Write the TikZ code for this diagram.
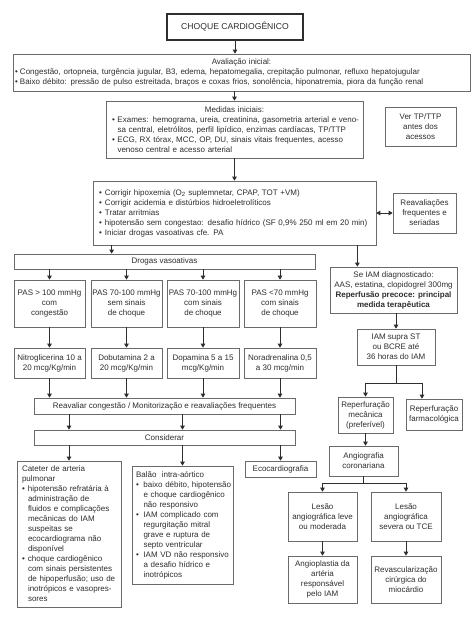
\documentclass[tikz,border=0pt]{standalone}
\usepackage{fontspec}
\setmainfont{Liberation Sans}
\usetikzlibrary{arrows.meta}
\definecolor{bordc}{HTML}{6A6A6A}
\definecolor{linec}{HTML}{2E2E2E}
\definecolor{txtc}{HTML}{2E2E2E}
\newcommand\fs{\fontsize{8}{10}\selectfont}
\newlength\bhang
\newcommand\bl[1]{\makebox[\bhang][l]{\textbullet}\mbox{#1}}
\newcommand\cl[1]{\hspace*{\bhang}\mbox{#1}}
\newcommand\bx[7][]{%
  \node[box,#1,minimum width={#5-#3},minimum height={#6-#4}] (#2) at ({(#3+#5)/2},{(#4+#6)/2}) {#7};}
\tikzset{
  box/.style={draw=bordc, line width=0.7pt, inner sep=0pt, align=center, font=\fs, text=txtc},
  arr/.style={draw=linec, line width=0.8pt, -{Triangle[length=4pt,width=4.5pt]}},
  arrtwo/.style={draw=linec, line width=0.8pt, {Triangle[length=4pt,width=4.5pt]}-{Triangle[length=4pt,width=4.5pt]}},
  plain/.style={draw=linec, line width=0.8pt},
}
\begin{document}
\begin{tikzpicture}[x=1pt,y=-1pt]
\useasboundingbox (0,0) rectangle (474,618);
\fill[white] (0,0) rectangle (474,618);

\bx[draw=linec,line width=1.6pt,font=\fontsize{8.6}{10}\selectfont]{title}{167}{14}{303}{40}{CHOQUE CARDIOGÊNICO}

\bx[align=left,inner xsep=2pt,text width=453pt]{aval}{13}{54}{470}{91}{\setlength\bhang{5pt}%
\makebox[\hsize]{Avaliação inicial:}\\
\bl{Congestão, ortopneia, turgência jugular, B3, edema, hepatomegalia, crepitação pulmonar, refluxo hepatojugular}\\
\bl{Baixo débito: pressão de pulso estreitada, braços e coxas frios, sonolência, hiponatremia, piora da função renal}}

\bx[align=left,inner xsep=6pt,text width=245pt]{medidas}{106}{101}{363}{158}{\setlength\bhang{5.5pt}%
\makebox[\hsize]{Medidas iniciais:}\\
\bl{Exames: hemograma, ureia, creatinina, gasometria arterial e veno-}\\
\cl{sa central, eletrólitos, perfil lipídico, enzimas cardíacas, TP/TTP}\\
\bl{ECG, RX tórax, MCC, OP, DU, sinais vitais frequentes, acesso}\\
\cl{venoso central e acesso arterial}}

\bx{ver}{385}{107}{456}{146}{Ver TP/TTP\\antes dos\\acessos}

\bx[align=left,inner xsep=6pt,text width=271pt]{corrigir}{93}{181}{376}{245}{\setlength\bhang{6pt}%
\bl{Corrigir hipoxemia (O\textsubscript{2} suplemnetar, CPAP, TOT +VM)}\\
\bl{Corrigir acidemia e distúrbios hidroeletrolíticos}\\
\bl{Tratar arritmias}\\
\bl{hipotensão sem congestao: desafio hídrico (SF 0,9\% 250 ml em 20 min)}\\
\bl{Iniciar drogas vasoativas cfe. PA}}

\bx{reaval}{393}{193}{456}{233}{Reavaliações\\frequentes e\\seriadas}

\bx{drogas}{14}{254}{315}{269}{Drogas vasoativas}

\bx{p1}{14}{280}{85}{327}{PAS > 100 mmHg\\com\\congestão}
\bx{p2}{91}{280}{162}{327}{PAS 70-100 mmHg\\sem sinais\\de choque}
\bx{p3}{167}{280}{239}{327}{PAS 70-100 mmHg\\com sinais\\de choque}
\bx{p4}{244}{280}{316}{327}{PAS <70 mmHg\\com sinais\\de choque}

\bx{d1}{14}{348}{85}{378}{Nitroglicerina 10 a\\20 mcg/Kg/min}
\bx{d2}{91}{348}{162}{378}{Dobutamina 2 a\\20 mcg/Kg/min}
\bx{d3}{167}{348}{239}{378}{Dopamina 5 a 15\\mcg/Kg/min}
\bx{d4}{244}{348}{316}{378}{Noradrenalina 0,5\\a 30 mcg/min}

\bx{reav}{34}{398}{295}{414}{Reavaliar congestão / Monitorização e reavaliações frequentes}
\bx{cons}{34}{430}{295}{445}{Considerar}

\bx[align=left,inner xsep=5pt,text width=94pt]{cateter}{17}{461}{121}{607}{\setlength\bhang{6pt}%
\mbox{Cateter de arteria}\\
\mbox{pulmonar}\\
\bl{hipotensão refratária à}\\
\cl{administração de}\\
\cl{fluidos e complicações}\\
\cl{mecânicas do IAM}\\
\cl{suspeitas se}\\
\cl{ecocardiograma não}\\
\cl{disponível}\\
\bl{choque cardiogênico}\\
\cl{com sinais persistentes}\\
\cl{de hipoperfusão; uso de}\\
\cl{inotrópicos e vasopres-}\\
\cl{sores}}

\bx[align=left,inner xsep=4pt,text width=93pt]{balao}{132}{466}{233}{584}{\setlength\bhang{7.5pt}%
\mbox{Balão\ \ intra-aórtico}\\
\bl{baixo débito, hipotensão}\\
\cl{e choque cardiogênico}\\
\cl{não responsivo}\\
\bl{IAM complicado com}\\
\cl{regurgitação mitral}\\
\cl{grave e ruptura de}\\
\cl{septo ventricular}\\
\bl{IAM VD não responsivo}\\
\cl{a desafio hídrico e}\\
\cl{inotrópicos}}

\bx{eco}{245}{461}{316}{477}{Ecocardiografia}

\bx{seiam}{330}{267}{457}{313}{Se IAM diagnosticado:\\AAS, estatina, clopidogrel 300mg\\\textbf{Reperfusão precoce: principal}\\\textbf{medida terapêutica}}
\bx{iamst}{357}{329}{435}{365}{IAM supra ST\\ou BCRE até\\36 horas do IAM}
\bx{mec}{338}{397}{393}{433}{Reperfuração\\mecânica\\(preferível)}
\bx{farm}{406}{399}{462}{430}{Reperfuração\\farmacológica}
\bx{angio}{329}{446}{398}{476}{Angiografia\\coronariana}
\bx{leve}{288}{492}{357}{541}{Lesão\\angiográfica leve\\ou moderada}
\bx{sev}{371}{492}{441}{541}{Lesão\\angiográfica\\severa ou TCE}
\bx{angp}{288}{556}{357}{603}{Angioplastia da\\artéria\\responsável\\pelo IAM}
\bx{revasc}{371}{556}{441}{603}{Revascularização\\cirúrgica do\\miocárdio}

% connectors
\draw[arr] (title.south) -- (title.south |- aval.north);
\draw[arr] (aval.south -| medidas.north) -- (medidas.north);
\draw[arr] (medidas.south) -- (medidas.south |- corrigir.north);
\draw[arrtwo] (corrigir.east |- reaval.west) -- (reaval.west);
\coordinate (c1) at ([xshift=19pt]corrigir.south west);
\coordinate (c2) at ([xshift=-19pt]corrigir.south east);
\draw[arr] (c1) -- (c1 |- drogas.north);
\draw[arr] (c2) -- (c2 |- seiam.north);
\foreach \i in {1,2,3,4}{
  \draw[arr] (drogas.south -| p\i.north) -- (p\i.north);
  \draw[arr] (p\i.south) -- (d\i.north);
  \draw[arr] (d\i.south) -- (d\i.south |- reav.north);
}
\foreach \n in {cateter,balao,eco}{
  \draw[arr] (reav.south -| \n.north) -- (cons.north -| \n.north);
  \draw[arr] (cons.south -| \n.north) -- (\n.north);
}
\draw[arr] (seiam.south -| iamst.north) -- (iamst.north);
\draw[plain] (iamst.south) -- ++(0,18) coordinate (b1);
\coordinate (ft) at ([xshift=-12pt]farm.north);
\draw[arr] (b1) -| (mec.north);
\draw[arr] (b1) -| (ft);
\draw[arr] (mec.south) -- (mec.south |- angio.north);
\draw[plain] (angio.south) -- ++(0,7) coordinate (b2);
\draw[arr] (b2) -| (leve.north);
\draw[arr] (b2) -| (sev.north);
\draw[arr] (leve.south) -- (angp.north);
\draw[arr] (sev.south) -- (revasc.north);
\end{tikzpicture}
\end{document}
